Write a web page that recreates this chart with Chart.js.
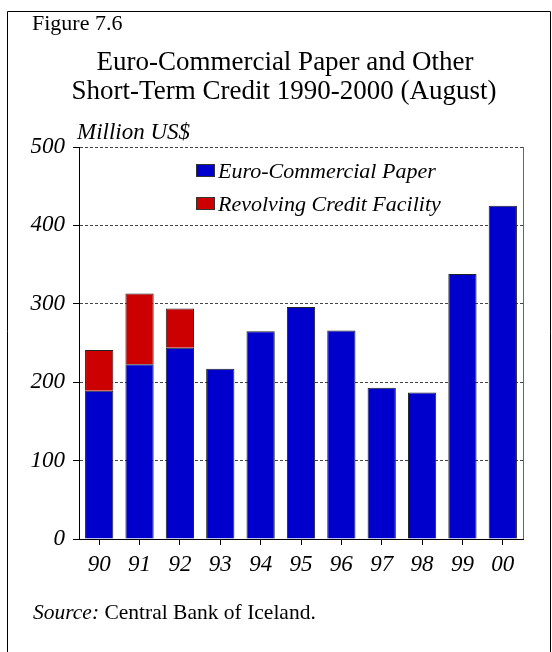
<!DOCTYPE html>
<html>
<head>
<meta charset="utf-8">
<script src="https://cdn.jsdelivr.net/npm/chart.js@4.4.0/dist/chart.umd.min.js"></script>
<style>
  html, body { margin: 0; padding: 0; background: #fff; }
  #wrap { position: relative; width: 552px; height: 652px; }
</style>
</head>
<body>
<div id="wrap"><canvas id="chart" width="552" height="652"></canvas></div>
<script>
const YEARS = ["90", "91", "92", "93", "94", "95", "96", "97", "98", "99", "00"];
const ECP = [189, 223, 244, 217, 265, 296, 266, 193, 187, 338, 425];
const RCF = [52, 90, 50, 0, 0, 0, 0, 0, 0, 0, 0];
const Y_TICKS = [0, 100, 200, 300, 400, 500];

const SERIF = "'Liberation Serif', 'Times New Roman', serif";

// frame, headings, unit label, legend and source note
const decorPlugin = {
    id: "decor",
    afterDraw(chart) {
        const {ctx, chartArea: {top, bottom, left, right}} = chart;
        ctx.save();

        // outer frame (left + top edges, right edge at page border)
        ctx.strokeStyle = "#000";
        ctx.lineWidth = 1;
        ctx.beginPath();
        ctx.moveTo(7.5, 652);
        ctx.lineTo(7.5, 11.5);
        ctx.lineTo(550.5, 11.5);
        ctx.lineTo(550.5, 652);
        ctx.stroke();

        // right border of the plot
        ctx.strokeStyle = "#666";
        ctx.beginPath();
        ctx.moveTo(right + 0.5, top);
        ctx.lineTo(right + 0.5, bottom);
        ctx.stroke();

        ctx.fillStyle = "#000";
        ctx.textBaseline = "alphabetic";
        ctx.textAlign = "left";
        ctx.font = `22px ${SERIF}`;
        ctx.fillText("Figure 7.6", 32, 30);

        ctx.textAlign = "center";
        ctx.font = `27px ${SERIF}`;
        ctx.fillText("Euro-Commercial Paper and Other", 285, 70);
        ctx.fillText("Short-Term Credit 1990-2000 (August)", 284, 99);

        ctx.textAlign = "left";
        ctx.font = `italic 23px ${SERIF}`;
        ctx.fillText("Million US$", 77, 139);

        // legend
        const items = chart.data.datasets;
        ctx.font = `italic 22px ${SERIF}`;
        items.forEach((ds, i) => {
            const y = 164 + i * 33;
            ctx.fillStyle = ds.backgroundColor;
            ctx.fillRect(196, y, 19, 13);
            ctx.strokeStyle = "#333";
            ctx.strokeRect(196.5, y + 0.5, 18, 12);
            ctx.fillStyle = "#000";
            ctx.fillText(ds.label, 218, y + 14);
        });

        ctx.font = `italic 21.5px ${SERIF}`;
        ctx.fillText("Source:", 33, 619);
        const w = ctx.measureText("Source: ").width;
        ctx.font = `21.5px ${SERIF}`;
        ctx.fillText("Central Bank of Iceland.", 33 + w, 619);

        ctx.restore();
    },
};

new Chart(document.getElementById("chart"), {
    type: "bar",
    data: {
        labels: YEARS,
        datasets: [
            {
                label: "Euro-Commercial Paper",
                data: ECP,
                backgroundColor: "#0000cc",
                borderColor: "#222",
                borderWidth: 1,
                borderSkipped: "bottom",
                barPercentage: 0.7,
                categoryPercentage: 1.0,
            },
            {
                label: "Revolving Credit Facility",
                data: RCF,
                backgroundColor: "#cc0000",
                borderColor: "#222",
                borderWidth: 1,
                borderSkipped: "bottom",
                barPercentage: 0.7,
                categoryPercentage: 1.0,
            },
        ],
    },
    options: {
        responsive: false,
        animation: false,
        devicePixelRatio: 1,
        layout: {padding: {top: 147, right: 29, left: 0, bottom: 0}},
        plugins: {
            legend: {display: false},
            tooltip: {enabled: false},
        },
        scales: {
            x: {
                stacked: true,
                afterFit(scale) { scale.height = 113; },
                border: {display: true, color: "#000", width: 1},
                grid: {
                    offset: false,
                    drawOnChartArea: false,
                    drawTicks: true,
                    tickLength: 6,
                    color: "#000",
                },
                ticks: {
                    color: "#000",
                    padding: 6,
                    font: {family: SERIF, size: 23, style: "italic"},
                },
            },
            y: {
                stacked: true,
                min: 0,
                max: 500,
                afterFit(scale) { scale.width = 79; },
                afterBuildTicks(scale) {
                    scale.ticks = Y_TICKS.map((v) => ({value: v}));
                },
                border: {display: true, color: "#000", width: 1, dash: [3, 2]},
                grid: {
                    color: (c) => (c.tick && c.tick.value === 0 ? "#000" : "#444"),
                    tickBorderDash: [],
                    tickLength: 6,
                    tickColor: "#000",
                    lineWidth: 1,
                },
                ticks: {
                    color: "#000",
                    padding: 8,
                    font: {family: SERIF, size: 23, style: "italic"},
                },
            },
        },
    },
    plugins: [decorPlugin],
});
</script>
</body>
</html>
